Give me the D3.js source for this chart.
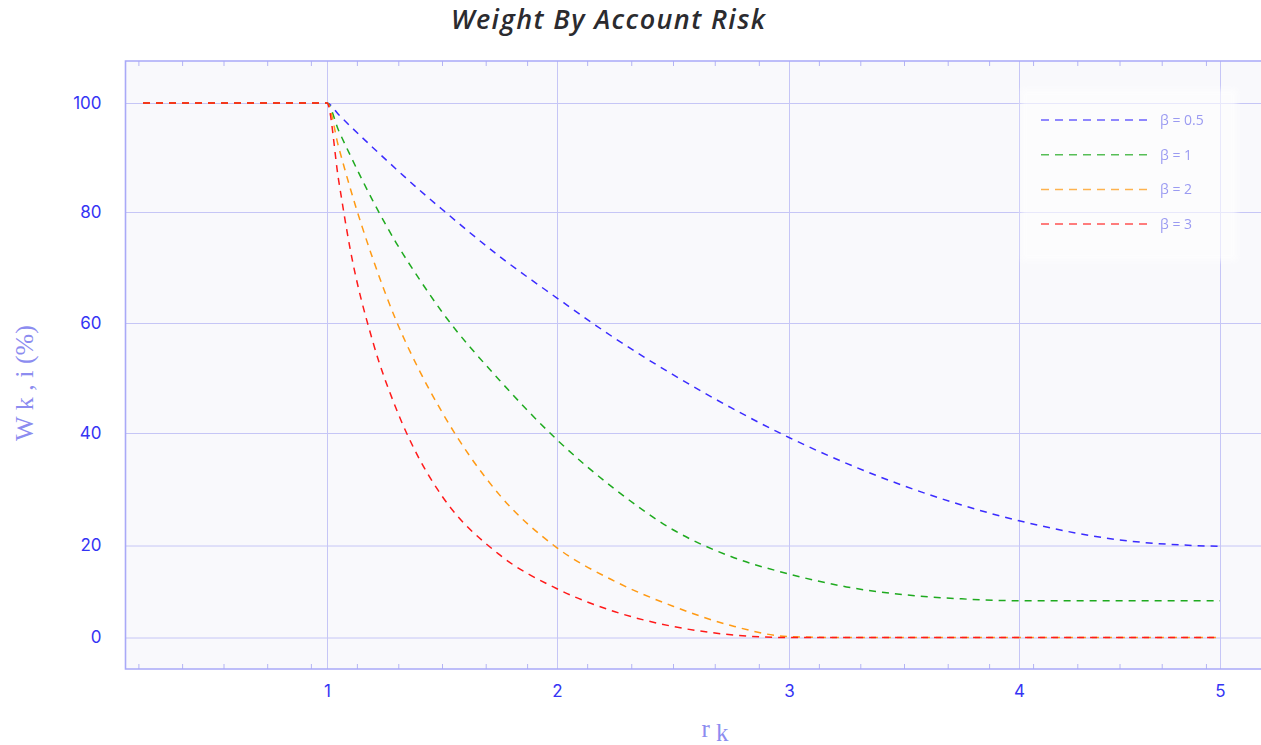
<!DOCTYPE html>
<html>
<head>
<meta charset="utf-8">
<script src="https://cdn.jsdelivr.net/npm/d3@7"></script>
<style>
  body { margin: 0; background: #fff; }
  svg { display: block; }
</style>
</head>
<body>
<svg id="chart" width="1261" height="745"></svg>
<script>
// values
var rValues = [0.2, 1, 1.05, 1.1, 1.2, 1.3, 1.4, 1.5, 1.75, 2, 2.25, 2.5, 2.75, 3, 3.25, 3.5, 3.75, 4, 4.5, 5];
var beta05 = [100, 100, 97.9, 95.8, 91.8, 87.9, 84.1, 80.5, 72, 64.5, 57.2, 50.6, 44.6, 39.2, 34.6, 30.6, 27.2, 24.4, 21, 19.8];
var beta1  = [100, 100, 95, 90.5, 82, 74.5, 68, 62, 49.6, 38.8, 30, 22.8, 17.6, 13.8, 11, 9.3, 8.4, 8.0, 8.0, 8.0];
var beta2  = [100, 100, 92, 84.5, 71.5, 60.5, 51.5, 43.8, 29, 19.5, 12.2, 6.8, 2.6, 0.2, 0, 0, 0, 0, 0, 0];
var beta3  = [100, 100, 86, 73.5, 56.5, 44.5, 35.5, 28.8, 18, 10.6, 5.6, 2.4, 0.6, 0, 0, 0, 0, 0, 0, 0];
var seriesNames = ['β = 0.5', 'β = 1', 'β = 2', 'β = 3'];
var seriesColors = ['#3b2cff', '#1faa1f', '#ff9a14', '#ff1a1a'];
var xTicks = [1, 2, 3, 4, 5];
var yTicks = [0, 20, 40, 60, 80, 100];
var xMinorTicks = [0.18, 0.37, 0.55, 0.74, 0.93,
                   1.13, 1.31, 1.5, 1.69, 1.87,
                   2.13, 2.32, 2.5, 2.68, 2.87,
                   3.13, 3.31, 3.5, 3.69, 3.87,
                   4.07, 4.29, 4.5, 4.71, 4.93];

var svg = d3.select('#chart');
var plot = {left: 125.5, top: 61, right: 1263, bottom: 669};

// axis positions are uneven in the original, so piecewise scales
var x = d3.scaleLinear()
  .domain([1, 2, 3, 4, 5])
  .range([327, 557, 789, 1019, 1220]);
var y = d3.scaleLinear()
  .domain([0, 20, 40, 60, 80, 100])
  .range([637.5, 545.5, 433, 323, 212, 103]);

// title
svg.append('text')
  .attr('x', 608).attr('y', 29)
  .attr('text-anchor', 'middle')
  .attr('font-family', 'Open Sans, sans-serif')
  .attr('font-style', 'italic')
  .attr('font-weight', 600)
  .attr('font-size', 27)
  .attr('fill', '#2b2b2f')
  .attr('textLength', 314)
  .text('Weight By Account Risk');

// plot background
svg.append('rect')
  .attr('x', plot.left).attr('y', plot.top)
  .attr('width', plot.right - plot.left)
  .attr('height', plot.bottom - plot.top)
  .attr('fill', '#f9f9fc');

// grid lines
var gridColor = '#c6c6f6';
svg.append('g')
  .attr('transform', 'translate(0,' + plot.bottom + ')')
  .call(d3.axisBottom(x).tickValues(xTicks).tickSize(-(plot.bottom - plot.top)).tickFormat(''))
  .call(function(g) {
    g.select('.domain').remove();
    g.selectAll('line').attr('stroke', gridColor);
  });
svg.append('g')
  .attr('transform', 'translate(' + plot.left + ',0)')
  .call(d3.axisLeft(y).tickValues(yTicks).tickSize(-(plot.right - plot.left)).tickFormat(''))
  .call(function(g) {
    g.select('.domain').remove();
    g.selectAll('line').attr('stroke', gridColor);
  });

// minor ticks top and bottom
var minorColor = '#b4b4f4';
svg.append('g')
  .attr('transform', 'translate(0,' + plot.bottom + ')')
  .call(d3.axisBottom(x).tickValues(xMinorTicks).tickSize(-5).tickFormat(''))
  .call(function(g) {
    g.select('.domain').remove();
    g.selectAll('line').attr('stroke', minorColor);
  });
svg.append('g')
  .attr('transform', 'translate(0,' + plot.top + ')')
  .call(d3.axisTop(x).tickValues(xMinorTicks).tickSize(-5).tickFormat(''))
  .call(function(g) {
    g.select('.domain').remove();
    g.selectAll('line').attr('stroke', minorColor);
  });

// border on left, top, bottom
var borderColor = '#a9a9f7';
svg.append('path')
  .attr('d', 'M' + plot.right + ',' + plot.top + 'H' + plot.left + 'V' + plot.bottom + 'H' + plot.right)
  .attr('fill', 'none')
  .attr('stroke', borderColor)
  .attr('stroke-width', 1.6);

// tick labels
var labelColor = '#3434f4';
svg.append('g')
  .attr('transform', 'translate(0,' + plot.bottom + ')')
  .call(d3.axisBottom(x).tickValues(xTicks).tickSize(0).tickPadding(16).tickFormat(d3.format('d')))
  .call(function(g) {
    g.select('.domain').remove();
    g.selectAll('text')
      .attr('fill', labelColor)
      .attr('font-family', 'Inter, sans-serif')
      .attr('font-size', 17);
  });
svg.append('g')
  .attr('transform', 'translate(' + plot.left + ',0)')
  .call(d3.axisLeft(y).tickValues(yTicks).tickSize(0).tickPadding(24).tickFormat(d3.format('d')))
  .call(function(g) {
    g.select('.domain').remove();
    g.selectAll('text')
      .attr('fill', labelColor)
      .attr('font-family', 'Inter, sans-serif')
      .attr('font-size', 17);
  });

// axis titles
var titleColor = '#8c8cf0';
svg.append('text')
  .attr('transform', 'translate(33,383) rotate(-90)')
  .attr('text-anchor', 'middle')
  .attr('font-family', 'Liberation Serif, serif')
  .attr('font-size', 26)
  .attr('fill', titleColor)
  .text('W k , i (%)');

var xTitle = svg.append('text')
  .attr('x', 715).attr('y', 737)
  .attr('text-anchor', 'middle')
  .attr('font-family', 'Liberation Serif, serif')
  .attr('font-size', 25)
  .attr('fill', titleColor);
xTitle.append('tspan').text('r ');
xTitle.append('tspan').attr('dy', 4).text('k');

// series lines
var allSeries = [beta05, beta1, beta2, beta3];
var line = d3.line()
  .x(function(d) { return x(d[0]); })
  .y(function(d) { return y(d[1]); })
  .curve(d3.curveMonotoneX);

allSeries.forEach(function(values, i) {
  var pts = rValues.map(function(r, j) { return [r, values[j]]; });
  svg.append('path')
    .datum(pts)
    .attr('d', line)
    .attr('fill', 'none')
    .attr('stroke', seriesColors[i])
    .attr('stroke-width', 1.5)
    .attr('stroke-dasharray', '7,6');
});

// legend box with soft edges
var defs = svg.append('defs');
defs.append('filter').attr('id', 'soft')
  .attr('x', '-10%').attr('y', '-10%').attr('width', '120%').attr('height', '120%')
  .append('feGaussianBlur').attr('stdDeviation', 2.5);

svg.append('rect')
  .attr('x', 1021).attr('y', 89)
  .attr('width', 216).attr('height', 172)
  .attr('fill', '#ffffff')
  .attr('opacity', 0.6)
  .attr('filter', 'url(#soft)');

var legend = svg.append('g').attr('opacity', 0.75);
seriesNames.forEach(function(name, i) {
  var ly = 120 + i * 34.7;
  legend.append('line')
    .attr('x1', 1041).attr('x2', 1147)
    .attr('y1', ly).attr('y2', ly)
    .attr('stroke', seriesColors[i])
    .attr('stroke-width', 1.5)
    .attr('stroke-dasharray', '8,6');
  legend.append('text')
    .attr('x', 1160).attr('y', ly + 5)
    .attr('font-family', 'Open Sans, sans-serif')
    .attr('font-size', 14)
    .attr('fill', '#7a7aee')
    .text(name);
});
</script>
</body>
</html>
